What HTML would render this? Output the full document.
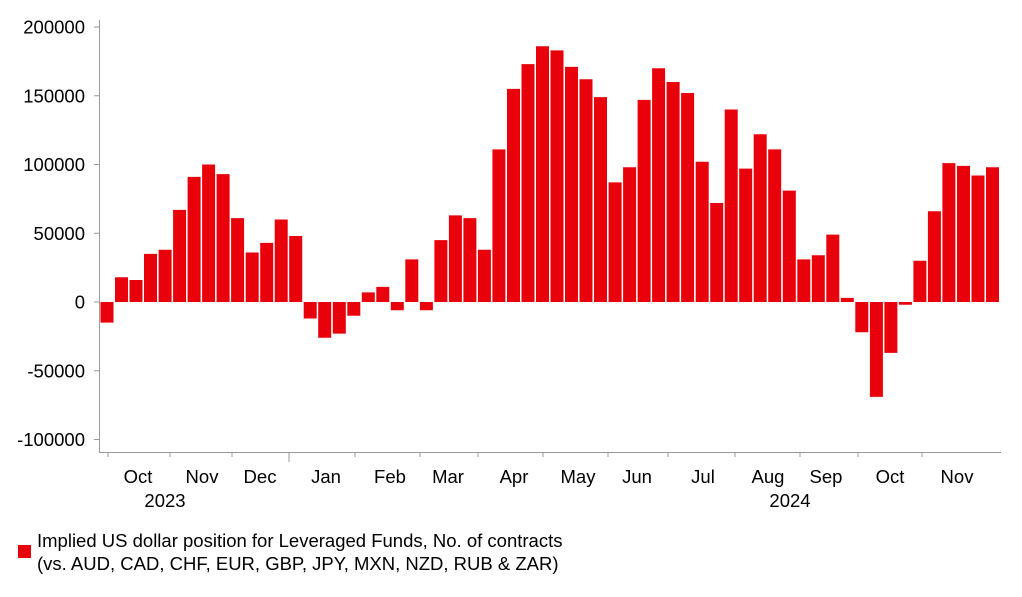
<!DOCTYPE html>
<html><head><meta charset="utf-8"><style>
body{margin:0;background:#fff;}
svg{display:block;font-family:"Liberation Sans",Arial,sans-serif;}
</style></head><body>
<svg width="1022" height="597" xmlns="http://www.w3.org/2000/svg">
<g id="bars" fill="#e8000b"></g>
<g stroke="#999" stroke-width="1">
<line x1="99.5" y1="20" x2="99.5" y2="452"/>
<line x1="99" y1="452.5" x2="1001" y2="452.5"/>
</g>
<g id="yt" font-size="18.5" text-anchor="end" fill="#000"></g>
<g id="xt" font-size="18.5" text-anchor="middle" fill="#000"></g>
<rect x="18" y="545" width="13" height="13" fill="#e8000b"/>
<text x="37" y="547" font-size="18.5">Implied US dollar position for Leveraged Funds, No. of contracts</text>
<text x="37" y="570" font-size="18.5">(vs. AUD, CAD, CHF, EUR, GBP, JPY, MXN, NZD, RUB &amp; ZAR)</text>
<script>
var v=[-15,18,16,35,38,67,91,100,93,61,36,43,60,48,-12,-26,-23,-10,7,11,-6,31,-6,45,63,61,38,111,155,173,186,183,171,162,149,87,98,147,170,160,152,102,72,140,97,122,111,81,31,34,49,3,-22,-69,-37,-2,30,66,101,99,92,98];
var ns="http://www.w3.org/2000/svg",g=document.getElementById('bars');
var z=302,s=275/200,w=900/62;
v.forEach(function(d,i){var r=document.createElementNS(ns,'rect');var h=Math.abs(d)*s;
r.setAttribute('x',(100.5+i*w).toFixed(1));r.setAttribute('width',(w-1.5).toFixed(1));
r.setAttribute('y',d>=0?z-h:z);r.setAttribute('height',h);g.appendChild(r);});
var yt=document.getElementById('yt');
[200000,150000,100000,50000,0,-50000,-100000].forEach(function(t){var y=z-t/1000*s;
var e=document.createElementNS(ns,'text');e.setAttribute('x',85);e.setAttribute('y',y+6.5);e.textContent=t;yt.appendChild(e);
var l=document.createElementNS(ns,'line');l.setAttribute('x1',94);l.setAttribute('x2',100);l.setAttribute('y1',y);l.setAttribute('y2',y);l.setAttribute('stroke','#999');yt.appendChild(l);});
var xt=document.getElementById('xt');
[["Oct",138],["Nov",202],["Dec",260],["Jan",326],["Feb",390],["Mar",448],["Apr",514],["May",578],["Jun",637],["Jul",703],["Aug",768],["Sep",826],["Oct",890],["Nov",957]].forEach(function(m){
var e=document.createElementNS(ns,'text');e.setAttribute('x',m[1]);e.setAttribute('y',483);e.textContent=m[0];xt.appendChild(e);});
[[165,"2023"],[790,"2024"]].forEach(function(m){var e=document.createElementNS(ns,'text');e.setAttribute('x',m[0]);e.setAttribute('y',507);e.textContent=m[1];xt.appendChild(e);});
[108,170,232,289,355,420,478,543,608,668,735,800,858,922].forEach(function(x,i){var l=document.createElementNS(ns,'line');l.setAttribute('x1',x);l.setAttribute('x2',x);l.setAttribute('y1',452);l.setAttribute('y2',x==289?462:457);l.setAttribute('stroke','#999');xt.appendChild(l);});
</script>
</svg>
</body></html>
